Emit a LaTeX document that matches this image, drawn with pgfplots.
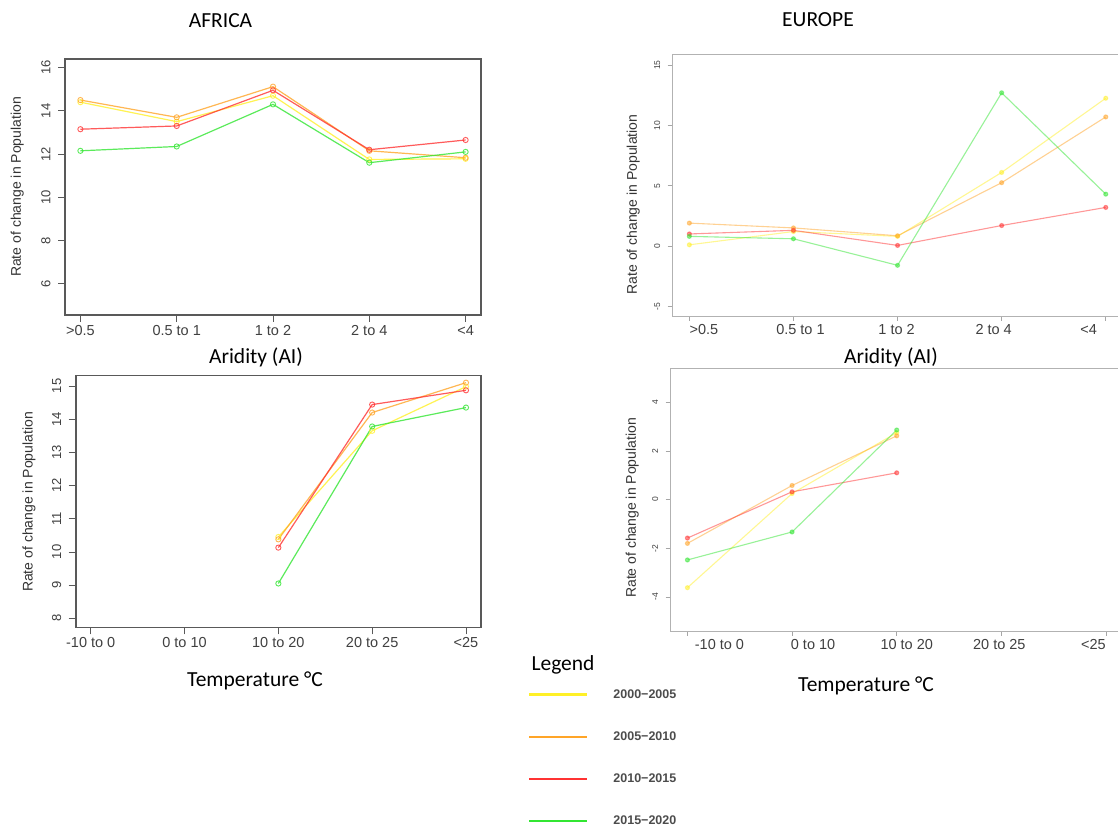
\documentclass[border=0pt]{standalone}
\usepackage{pgfplots}
\pgfplotsset{compat=1.18}
\usepackage{fontspec}
\setmainfont{Liberation Sans}
\newfontfamily\calibri{Carlito}
\definecolor{cy}{RGB}{255,240,40}
\definecolor{co}{RGB}{255,165,40}
\definecolor{cr}{RGB}{255,50,50}
\definecolor{cg}{RGB}{50,230,50}
\pgfplotsset{
  base/.style={scale only axis, xmin=-0.16, xmax=4.16, xtick={0,1,2,3,4},
    tick align=outside, xtick pos=bottom, ytick pos=left,
    /pgf/number format/assume math mode=true,
    xticklabel style={font=\fontsize{14.5}{16}\selectfont, text=black!75},
    every axis y label/.style={rotate=90, anchor=center, font=\fontsize{14}{16}\selectfont, text=black!80},
  },
  afr/.style={base, axis line style={black!65, line width=1.6pt}, major tick style={black!65, line width=0.9pt}, major tick length=7pt,
    yticklabel style={xshift=-4pt, rotate=90, anchor=south, font=\fontsize{13}{15}\selectfont, text=black!75},
    every axis plot/.append style={line width=1.2pt, opacity=0.8, mark=o, mark size=2.6pt, mark options={solid, line width=0.9pt}}},
  eur/.style={base, axis line style={black!30, line width=0.9pt}, major tick style={black!35, line width=0.7pt}, major tick length=5pt,
    yticklabel style={xshift=-4pt, rotate=90, anchor=south, font=\fontsize{8.5}{10}\selectfont, text=black!75},
    every axis plot/.append style={line width=1.1pt, opacity=0.5, mark=*, mark size=2pt, mark options={solid}}},
}
\begin{document}
\begin{tikzpicture}
\path[use as bounding box, fill=white] (0pt,0pt) rectangle (1118pt,827pt);

% ---------------- AFRICA aridity
\begin{axis}[afr, at={(65pt,512pt)}, anchor=south west, width=416pt, height=256pt,
  ymin=4.55, ymax=16.4, ytick={6,8,10,12,14,16},
  xticklabels={>0.5, 0.5 to 1, 1 to 2, 2 to 4, <4},
  ylabel={Rate of change in Population},
  every axis y label/.append style={at={(axis description cs:-0.1147,0.5)}}]
\addplot[color=cy] coordinates {(0,14.4) (1,13.5) (2,14.7) (3,11.75) (4,11.78)};
\addplot[color=co] coordinates {(0,14.5) (1,13.7) (2,15.12) (3,12.15) (4,11.83)};
\addplot[color=cr] coordinates {(0,13.15) (1,13.3) (2,14.95) (3,12.2) (4,12.65)};
\addplot[color=cg] coordinates {(0,12.15) (1,12.35) (2,14.3) (3,11.6) (4,12.1)};
\end{axis}

% ---------------- EUROPE aridity
\begin{axis}[eur, at={(672.7pt,511pt)}, anchor=south west, width=449.7pt, height=261.3pt,
  ymin=-5.8, ymax=15.86, ytick={-5,0,5,10,15},
  xticklabels={{\hspace*{29pt}>0.5}, {\hspace*{14pt}0.5 to 1}, {1 to 2\hspace*{2pt}}, {2 to 4\hspace*{16pt}}, {<4\hspace*{34pt}}},
  ylabel={Rate of change in Population},
  every axis y label/.append style={at={(axis description cs:-0.0876,0.4267)}}]
\addplot[color=cy] coordinates {(0,0.1) (1,1.2) (2,0.8) (3,6.1) (4,12.25)};
\addplot[color=co] coordinates {(0,1.9) (1,1.5) (2,0.85) (3,5.25) (4,10.7)};
\addplot[color=cr] coordinates {(0,1.0) (1,1.3) (2,0.05) (3,1.7) (4,3.2)};
\addplot[color=cg] coordinates {(0,0.8) (1,0.6) (2,-1.6) (3,12.7) (4,4.3)};
\end{axis}

% ---------------- AFRICA temperature
\begin{axis}[afr, at={(75.7pt,199.7pt)}, anchor=south west, width=405.3pt, height=251.6pt,
  ymin=7.73, ymax=15.31, ytick={8,9,10,11,12,13,14,15},
  xticklabels={-10 to 0, 0 to 10, 10 to 20, 20 to 25, <25},
  ylabel={Rate of change in Population},
  every axis y label/.append style={at={(axis description cs:-0.1152,0.498)}}]
\addplot[color=cy] coordinates {(2,10.45) (3,13.65) (4,14.98)};
\addplot[color=co] coordinates {(2,10.38) (3,14.2) (4,15.1)};
\addplot[color=cr] coordinates {(2,10.13) (3,14.44) (4,14.87)};
\addplot[color=cg] coordinates {(2,9.05) (3,13.78) (4,14.35)};
\end{axis}

% ---------------- EUROPE temperature
\begin{axis}[eur, at={(670.7pt,196pt)}, anchor=south west, width=452pt, height=262.3pt,
  ymin=-5.4, ymax=5.38, ytick={-4,-2,0,2,4},
  xticklabels={{\hspace*{64pt}-10 to 0}, {\hspace*{42pt}0 to 10}, {\hspace*{20pt}10 to 20}, {20 to 25\hspace*{4pt}}, {<25\hspace*{25pt}}},
  ylabel={Rate of change in Population},
  every axis y label/.append style={at={(axis description cs:-0.085,0.469)}}]
\addplot[color=cy] coordinates {(0,-3.62) (1,0.25) (2,2.75)};
\addplot[color=co] coordinates {(0,-1.8) (1,0.58) (2,2.62)};
\addplot[color=cr] coordinates {(0,-1.58) (1,0.32) (2,1.1)};
\addplot[color=cg] coordinates {(0,-2.48) (1,-1.33) (2,2.86)};
\end{axis}

% ---------------- titles and legend
\begin{axis}[at={(0pt,0pt)}, anchor=south west, scale only axis, width=1118pt, height=827pt,
  xmin=0, xmax=1118, ymin=0, ymax=827, y dir=reverse, hide axis, clip=false,
  legend style={at={(0.4723,0.1690)}, anchor=north west, draw=none, fill=none, inner sep=0pt,
    row sep=28pt, font=\bfseries\fontsize{12.5}{14}\selectfont, text=black!70,
    /tikz/every odd column/.style={column sep=23pt}},
  legend cell align=left,
  legend image code/.code={\draw[#1, line width=2.2pt] (0pt,0pt) -- (58pt,0pt);}]
\addlegendimage{color=cy}
\addlegendentry{2000−2005}
\addlegendimage{color=co}
\addlegendentry{2005−2010}
\addlegendimage{color=cr}
\addlegendentry{2010−2015}
\addlegendimage{color=cg}
\addlegendentry{2015−2020}
\node[font=\calibri\fontsize{21.5}{24}\selectfont] at (axis cs:220.5,21) {AFRICA};
\node[font=\calibri\fontsize{21.5}{24}\selectfont] at (axis cs:818,20) {EUROPE};
\node[font=\calibri\fontsize{21.5}{24}\selectfont] at (axis cs:256,357) {Aridity (AI)};
\node[font=\calibri\fontsize{21.5}{24}\selectfont] at (axis cs:891,357) {Aridity (AI)};
\node[font=\calibri\fontsize{21.5}{24}\selectfont] at (axis cs:255,681) {Temperature °C};
\node[font=\calibri\fontsize{21.5}{24}\selectfont] at (axis cs:866,686) {Temperature °C};
\node[font=\calibri\fontsize{21.5}{24}\selectfont, anchor=west] at (axis cs:528,665) {Legend};
\end{axis}
\end{tikzpicture}
\end{document}
